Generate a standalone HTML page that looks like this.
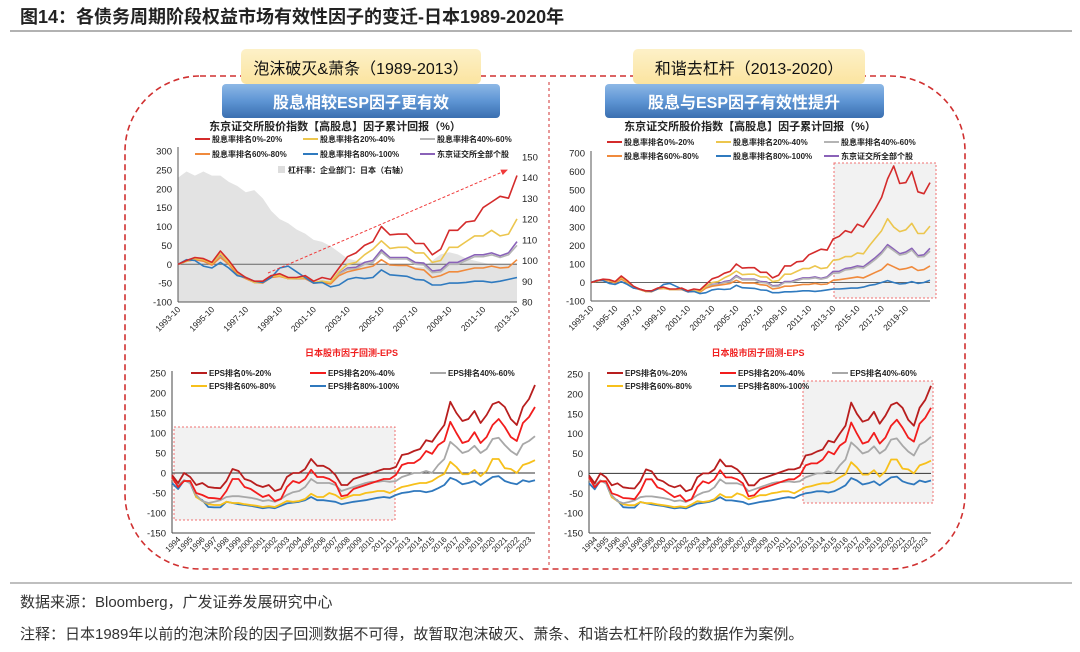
<!DOCTYPE html>
<html><head><meta charset="utf-8">
<style>
html,body{margin:0;padding:0;background:#fff;}
body{width:1080px;height:647px;overflow:hidden;position:relative;font-family:"Liberation Sans","Noto Sans CJK SC",sans-serif;}
svg text{font-family:"Liberation Sans","Noto Sans CJK SC",sans-serif;}
</style></head>
<body>
<svg id="root" width="1080" height="647" viewBox="0 0 1080 647" xmlns="http://www.w3.org/2000/svg">
<defs>
<linearGradient id="blueg" x1="0" y1="0" x2="0" y2="1"><stop offset="0" stop-color="#8db8e6"/><stop offset="0.5" stop-color="#5e95d4"/><stop offset="1" stop-color="#3a6fb0"/></linearGradient>
<linearGradient id="yelg" x1="0" y1="0" x2="0" y2="1"><stop offset="0" stop-color="#fdf1c8"/><stop offset="1" stop-color="#fbe4a0"/></linearGradient>
<marker id="arr" markerWidth="8" markerHeight="8" refX="6" refY="3" orient="auto"><path d="M0,0 L7,3 L0,6 z" fill="#f03a3a"/></marker>
</defs>
<text x="20" y="23" font-size="18" font-weight="bold" fill="#222">图14：各债务周期阶段权益市场有效性因子的变迁-日本1989-2020年</text>
<line x1="10" y1="31" x2="1072" y2="31" stroke="#999" stroke-width="1.5"/>
<rect x="125" y="76" width="840" height="493" rx="75" ry="75" fill="none" stroke="#d03030" stroke-width="1.6" stroke-dasharray="6,4"/>
<line x1="549" y1="82" x2="549" y2="568" stroke="#d03030" stroke-width="1" stroke-dasharray="3,3"/>
<rect x="241" y="49" width="240" height="35" rx="5" fill="url(#yelg)"/>
<text x="361" y="74" font-size="16" text-anchor="middle" fill="#111">泡沫破灭&amp;萧条（1989-2013）</text>
<rect x="633" y="49" width="232" height="35" rx="5" fill="url(#yelg)"/>
<text x="749" y="74" font-size="16" text-anchor="middle" fill="#111">和谐去杠杆（2013-2020）</text>
<rect x="222" y="84" width="278" height="34" rx="4" fill="url(#blueg)"/>
<text x="361" y="108" font-size="16" font-weight="bold" text-anchor="middle" fill="#fff">股息相较ESP因子更有效</text>
<rect x="605" y="84" width="279" height="34" rx="4" fill="url(#blueg)"/>
<text x="744" y="108" font-size="16" font-weight="bold" text-anchor="middle" fill="#fff">股息与ESP因子有效性提升</text>
<line x1="10" y1="583" x2="1072" y2="583" stroke="#aaa" stroke-width="1.5"/>
<text x="20" y="607" font-size="15" fill="#333">数据来源：Bloomberg，广发证券发展研究中心</text>
<text x="20" y="639" font-size="15" fill="#333">注释：日本1989年以前的泡沫阶段的因子回测数据不可得，故暂取泡沫破灭、萧条、和谐去杠杆阶段的数据作为案例。</text>
<g id="charts"></g>
</svg>
<script>
// ---- Top charts: dividend-yield factor cumulative return, semiannual from 1993-10 ----
const divTimes = [1993.75,1994.25,1994.75,1995.25,1995.75,1996.25,1996.75,1997.25,1997.75,1998.25,1998.75,1999.25,1999.75,2000.25,2000.75,2001.25,2001.75,2002.25,2002.75,2003.25,2003.75,2004.25,2004.75,2005.25,2005.75,2006.25,2006.75,2007.25,2007.75,2008.25,2008.75,2009.25,2009.75,2010.25,2010.75,2011.25,2011.75,2012.25,2012.75,2013.25,2013.75,2014.25,2014.75,2015.25,2015.75,2016.25,2016.75,2017.25,2017.75,2018.25,2018.75,2019.25,2019.75,2020.25,2020.75,2021.25,2021.75];
const div0to20 = [0,10,18,15,5,35,10,-20,-35,-45,-45,-30,-25,-35,-35,-30,-45,-35,-40,-10,20,30,50,60,100,78,80,80,55,55,25,40,90,90,112,115,150,165,180,175,235,250,280,270,315,300,350,400,460,560,630,535,540,600,490,480,540];
const div20to40 = [0,8,15,12,2,28,5,-22,-35,-48,-48,-32,-30,-38,-38,-35,-48,-45,-48,-20,0,5,25,40,62,42,45,45,30,30,5,10,45,45,60,75,75,90,75,80,120,125,140,140,160,155,200,240,280,345,300,275,285,320,265,265,305];
const div40to60 = [0,8,13,10,0,20,2,-25,-36,-48,-49,-33,-31,-38,-39,-38,-50,-46,-50,-26,-13,-12,0,5,32,14,14,14,0,-2,-22,-20,0,0,10,20,20,25,18,25,50,52,68,72,82,78,100,125,155,195,172,148,155,175,138,140,170];
const div60to80 = [0,8,12,8,-2,18,0,-28,-38,-48,-50,-35,-32,-38,-38,-38,-50,-48,-52,-30,-20,-15,-10,-5,12,-2,-3,-3,-12,-15,-35,-30,-20,-20,-15,-10,-10,-5,-10,-8,12,15,20,25,30,25,40,55,70,100,85,70,75,85,65,70,90];
const div80to100 = [0,12,10,-5,-10,5,-10,-30,-35,-45,-48,-35,-10,-5,-20,-35,-50,-48,-60,-55,-40,-35,-38,-35,-15,-28,-30,-32,-40,-42,-55,-55,-50,-50,-48,-45,-45,-48,-45,-40,-35,-35,-33,-30,-30,-25,-15,-10,0,10,0,-8,-5,5,-5,0,12];
const divAll = [0,8,14,10,0,22,2,-25,-35,-48,-48,-32,-30,-38,-38,-38,-50,-45,-50,-25,-10,-8,5,10,38,18,18,18,5,3,-18,-15,5,5,15,25,25,30,22,30,60,60,75,80,90,85,110,135,165,205,180,155,165,185,145,150,185];
const leverage = [140,143,141,143,141,141,138,136,133,134,130,124,120,118,115,113,110,109,107,104,101,100,99,99,98,98,98,98,97,97,100,103,104,103,101,100,99,98,98,98,99];
const divLeftTicks = [300,250,200,150,100,50,0,-50,-100];
const divRightTicks = [150,140,130,120,110,100,90,80];
const divRight2Ticks = [700,600,500,400,300,200,100,0,-100];
const divXLabels = ["1993-10","1995-10","1997-10","1999-10","2001-10","2003-10","2005-10","2007-10","2009-10","2011-10","2013-10","2015-10","2017-10","2019-10"];
const divXLabelTimes = [1993.75,1995.75,1997.75,1999.75,2001.75,2003.75,2005.75,2007.75,2009.75,2011.75,2013.75,2015.75,2017.75,2019.75];

// ---- Bottom charts: EPS factor backtest, semiannual from 1994 ----
const epsTimes = [1994,1994.5,1995,1995.5,1996,1996.5,1997,1997.5,1998,1998.5,1999,1999.5,2000,2000.5,2001,2001.5,2002,2002.5,2003,2003.5,2004,2004.5,2005,2005.5,2006,2006.5,2007,2007.5,2008,2008.5,2009,2009.5,2010,2010.5,2011,2011.5,2012,2012.5,2013,2013.5,2014,2014.5,2015,2015.5,2016,2016.5,2017,2017.5,2018,2018.5,2019,2019.5,2020,2020.5,2021,2021.5,2022,2022.5,2023,2023.5,2024];
const eps0to20 = [-5,-25,0,-10,-30,-25,-35,-37,-38,-20,10,5,-15,-20,-30,-35,-30,-45,-40,-10,0,0,10,35,18,18,10,-5,-30,-30,-15,-10,-5,0,5,10,10,15,45,48,55,60,82,78,100,120,178,150,130,135,155,125,145,172,178,165,135,120,165,185,220];
const eps20to40 = [-10,-35,-20,-20,-50,-55,-62,-63,-65,-45,-15,-15,-35,-40,-50,-60,-55,-70,-65,-35,-20,-25,-15,8,-10,-10,-15,-25,-58,-55,-40,-35,-30,-25,-20,-15,-15,-5,20,25,25,35,55,48,70,80,128,100,75,80,102,75,90,120,135,115,90,80,125,140,165];
const eps40to60 = [-15,-30,-18,-25,-55,-70,-75,-72,-68,-60,-58,-58,-60,-62,-65,-70,-68,-72,-65,-55,-48,-45,-35,-15,-25,-25,-25,-30,-45,-40,-35,-30,-25,-22,-22,-20,-22,-20,-10,-5,0,0,5,0,20,35,78,65,50,55,68,50,60,85,88,70,55,45,72,80,92];
const eps60to80 = [-15,-30,-20,-20,-60,-70,-78,-80,-80,-72,-75,-75,-78,-80,-82,-85,-83,-85,-78,-70,-72,-70,-65,-52,-60,-60,-50,-55,-65,-60,-55,-55,-50,-48,-45,-45,-50,-42,-35,-32,-28,-25,-25,-20,-10,-2,28,15,-3,-3,8,-8,5,35,35,12,10,0,20,25,32];
const eps80to100 = [-25,-40,-18,-25,-60,-68,-85,-86,-86,-72,-75,-78,-80,-82,-85,-88,-86,-88,-82,-76,-74,-72,-68,-60,-68,-68,-70,-72,-78,-75,-72,-70,-68,-65,-62,-60,-62,-55,-50,-48,-45,-45,-48,-45,-38,-30,-12,-18,-28,-25,-20,-30,-20,-10,-8,-20,-25,-28,-18,-22,-18];
const epsTicks = [250,200,150,100,50,0,-50,-100,-150];
const epsXLabels = ["1994","1995","1996","1997","1998","1999","2000","2001","2002","2003","2004","2005","2006","2007","2008","2009","2010","2011","2012","2013","2014","2015","2016","2017","2018","2019","2020","2021","2022","2023"];

const NS = "http://www.w3.org/2000/svg";
const root = document.getElementById('charts');
function mk(tag, attrs, parent, txt){
  const e = document.createElementNS(NS, tag);
  for (const k in attrs) e.setAttribute(k, attrs[k]);
  if (txt !== undefined) e.textContent = txt;
  (parent || root).appendChild(e);
  return e;
}
function linScale(d0,d1,r0,r1){ return v => r0 + (v-d0)/(d1-d0)*(r1-r0); }
function pathFrom(xs, ys, xS, yS, n){
  let d = "";
  for (let i=0;i<n;i++){ d += (i?"L":"M") + xS(xs[i]).toFixed(1) + "," + yS(ys[i]).toFixed(1); }
  return d;
}

function yAxis(g, ticks, yS, x, anchorEnd){
  ticks.forEach(t=>{
    const tx = mk('text',{x: anchorEnd? x-4 : x+4, y: yS(t)+3.5, 'font-size':9.5, 'text-anchor': anchorEnd?'end':'start', fill:'#222'}, g, String(t));
    
    
  });
}
function xLabels(g, labels, times, xS, y, fs){
  labels.forEach((l,i)=>{
    const x = xS(times[i]);
    const tx = mk('text',{x:x+3, y:y, 'font-size':fs, 'text-anchor':'end', fill:'#222', transform:`rotate(-45 ${x+3} ${y})`}, g, l);
    
    
  });
}
function legendItem(g, x, y, color, label, w){
  const li = mk('g',{}, g);
  
  
  mk('line',{x1:x,y1:y,x2:x+w,y2:y,stroke:color,'stroke-width':2}, li);
  mk('text',{x:x+w+2,y:y+3,'font-size':8,'font-weight':'bold',fill:'#222'}, li, label);
}

const divSeries = [
  {name:'div-0-20', vals:div0to20, color:'#d42b2b', label:'股息率排名0%-20%'},
  {name:'div-20-40', vals:div20to40, color:'#ecc64e', label:'股息率排名20%-40%'},
  {name:'div-40-60', vals:div40to60, color:'#b4b4b4', label:'股息率排名40%-60%'},
  {name:'div-60-80', vals:div60to80, color:'#f08a3c', label:'股息率排名60%-80%'},
  {name:'div-80-100', vals:div80to100, color:'#2f7abf', label:'股息率排名80%-100%'},
  {name:'div-all', vals:divAll, color:'#8a62b8', label:'东京证交所全部个股'}
];
const epsSeries = [
  {name:'eps-0-20', vals:eps0to20, color:'#b81e1e', label:'EPS排名0%-20%'},
  {name:'eps-20-40', vals:eps20to40, color:'#f21d1d', label:'EPS排名20%-40%'},
  {name:'eps-40-60', vals:eps40to60, color:'#a8a8a8', label:'EPS排名40%-60%'},
  {name:'eps-60-80', vals:eps60to80, color:'#f7c01b', label:'EPS排名60%-80%'},
  {name:'eps-80-100', vals:eps80to100, color:'#2f78bd', label:'EPS排名80%-100%'}
];

// ===== Top-left =====
(function(){
  const g = mk('g',{});  
  const L=178,R=517,T=151,B=302;
  const xS = linScale(1993.75, 2013.75, L, R);
  const yS = linScale(-100, 300, B, T);
  const yR = linScale(80, 150, 302, 157);
  const n = 41;
  // leverage area
  let d = "M"+xS(divTimes[0])+","+B;
  for (let i=0;i<leverage.length;i++) d += "L"+xS(divTimes[i]).toFixed(1)+","+yR(leverage[i]).toFixed(1);
  d += "L"+xS(divTimes[leverage.length-1])+","+B+"Z";
  const area = mk('path',{d:d, fill:'#e3e3e3'}, g);
  
  
  mk('line',{x1:L,y1:T-4,x2:L,y2:B,stroke:'#555','stroke-width':1}, g);
  mk('line',{x1:L,y1:yS(0),x2:R,y2:yS(0),stroke:'#666','stroke-width':1}, g);
  mk('line',{x1:L,y1:B,x2:R,y2:B,stroke:'#555','stroke-width':1}, g);
  yAxis(g, divLeftTicks, yS, L-2, true);
  yAxis(g, divRightTicks, yR, R+1, false);
  xLabels(g, divXLabels.slice(0,11), divXLabelTimes.slice(0,11), xS, B+8, 8.5);
  [5,2,3,1,4,0].forEach(k=>{
    const s = divSeries[k];
    const p = mk('path',{d:pathFrom(divTimes, s.vals, xS, yS, n), fill:'none', stroke:s.color,'stroke-width':1.6,'stroke-linejoin':'round'}, g);
    
    
  });
  const ar = mk('line',{x1:268,y1:273,x2:507,y2:170,stroke:'#f03a3a','stroke-width':1,'stroke-dasharray':'3,2','marker-end':'url(#arr)'}, g);
  
  
  const t = mk('text',{x:335,y:130,'font-size':11,'font-weight':'bold','text-anchor':'middle',fill:'#222'}, g, '东京证交所股价指数【高股息】因子累计回报（%）');
   
  const lx=[195,303,420];
  divSeries.forEach((s,i)=> legendItem(g, lx[i%3], i<3?139:154, s.color, s.label, 15));
  const lv = mk('g',{}, g);  
  mk('rect',{x:278,y:166,width:7,height:7,fill:'#ddd'}, lv);
  mk('text',{x:288,y:173,'font-size':8,'font-weight':'bold',fill:'#222'}, lv, '杠杆率：企业部门：日本（右轴）');
})();

// ===== Top-right =====
(function(){
  const g = mk('g',{});  
  const L=591,R=930,T=153,B=301;
  const xS = linScale(1993.75, 2021.75, L, R);
  const yS = linScale(-100, 700, B, T);
  const hr = mk('rect',{x:834,y:163,width:102,height:135,fill:'#f2f2f2',stroke:'#f07070','stroke-width':1,'stroke-dasharray':'2,2'}, g);
   
  mk('line',{x1:L,y1:T-2,x2:L,y2:B,stroke:'#555','stroke-width':1}, g);
  mk('line',{x1:L,y1:yS(0),x2:R,y2:yS(0),stroke:'#666','stroke-width':1}, g);
  mk('line',{x1:L,y1:B,x2:R,y2:B,stroke:'#555','stroke-width':1}, g);
  yAxis(g, divRight2Ticks, yS, L-2, true);
  xLabels(g, divXLabels, divXLabelTimes, xS, B+8, 8.5);
  [5,2,3,1,4,0].forEach(k=>{
    const s = divSeries[k];
    const p = mk('path',{d:pathFrom(divTimes, s.vals, xS, yS, divTimes.length), fill:'none', stroke:s.color,'stroke-width':1.6,'stroke-linejoin':'round'}, g);
    
    
  });
  const t = mk('text',{x:750,y:130,'font-size':11,'font-weight':'bold','text-anchor':'middle',fill:'#222'}, g, '东京证交所股价指数【高股息】因子累计回报（%）');
   
  const lx=[607,716,824];
  divSeries.forEach((s,i)=> legendItem(g, lx[i%3], i<3?142:156, s.color, s.label, 15));
})();

// ===== Bottom charts =====
function epsChart(name, L, R, T, B, box, legX){
  const g = mk('g',{});  
  const xS = linScale(1994, 2024, L, R);
  const yS = linScale(-150, 250, B, T);
  const hr = mk('rect',{x:box[0],y:box[1],width:box[2],height:box[3],fill:'#f2f2f2',stroke:'#f07070','stroke-width':1,'stroke-dasharray':'2,2'}, g);
   
  mk('line',{x1:L,y1:T-2,x2:L,y2:B,stroke:'#444','stroke-width':1}, g);
  mk('line',{x1:L,y1:yS(0),x2:R,y2:yS(0),stroke:'#333','stroke-width':1}, g);
  mk('line',{x1:L,y1:B,x2:R,y2:B,stroke:'#444','stroke-width':1}, g);
  yAxis(g, epsTicks, yS, L-2, true);
  const lt = epsXLabels.map(s=>+s + 0.5);
  xLabels(g, epsXLabels, lt, xS, B+7, 8);
  [4,3,2,1,0].forEach(k=>{
    const s = epsSeries[k];
    const p = mk('path',{d:pathFrom(epsTimes, s.vals, xS, yS, epsTimes.length), fill:'none', stroke:s.color,'stroke-width':1.8,'stroke-linejoin':'round'}, g);
    
    
  });
  const t = mk('text',{x:(L+R)/2-2,y:356,'font-size':9,'font-weight':'bold','text-anchor':'middle',fill:'#f02020'}, g, '日本股市因子回测-EPS');
   
  epsSeries.forEach((s,i)=> legendItem(g, legX[i%3], i<3?373:386, s.color, s.label, 16));
}
epsChart('chart-eps-left', 172, 535, 373, 533, [174,427,221,93], [191,310,430]);
epsChart('chart-eps-right', 589, 931, 374, 533, [803,381,130,122], [607,720,832]);
</script>
</body></html>
